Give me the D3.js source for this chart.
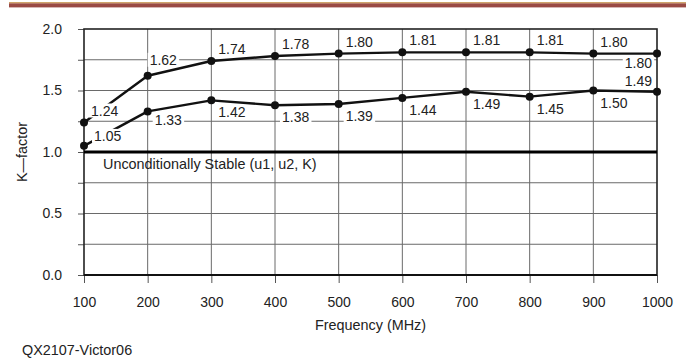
<!DOCTYPE html>
<html>
<head>
<meta charset="utf-8">
<script src="https://cdn.jsdelivr.net/npm/d3@7"></script>
<style>
  html, body { margin: 0; padding: 0; background: #fff; }
  svg { display: block; font-family: "Liberation Sans", Arial, Helvetica, sans-serif; }
</style>
</head>
<body>
<svg id="chart" width="686" height="360"></svg>
<script>
// Frequency sweep (MHz) and stability factors
const frequencies = [100, 200, 300, 400, 500, 600, 700, 800, 900, 1000];
const kUpper = [1.24, 1.62, 1.74, 1.78, 1.80, 1.81, 1.81, 1.81, 1.80, 1.80];
const kLower = [1.05, 1.33, 1.42, 1.38, 1.39, 1.44, 1.49, 1.45, 1.50, 1.49];
const yTickValues = [0, 0.25, 0.5, 0.75, 1.0, 1.25, 1.5, 1.75, 2.0];
const yTickLabels = ["0.0", "", "0.5", "", "1.0", "", "1.5", "", "2.0"];
const stableLevel = 1.0;
const stableText = "Unconditionally Stable (u1, u2, K)";
const xTitle = "Frequency (MHz)";
const yTitle = "K\u2014factor";
const figureId = "QX2107-Victor06";

const svg = d3.select("#chart");
const plotL = 84, plotR = 657, plotT = 29, plotB = 275;

const x = d3.scaleLinear().domain([100, 1000]).range([plotL, plotR]);
const y = d3.scaleLinear().domain([0, 2]).range([plotB, plotT]);

// header band
svg.append("rect").attr("x", 9).attr("y", 2).attr("width", 677).attr("height", 1.6).attr("fill", "#cfa56a");
svg.append("rect").attr("x", 9).attr("y", 3.4).attr("width", 677).attr("height", 4).attr("fill", "#9a4a44");

// grid
const grid = svg.append("g");
grid.selectAll("line.v").data(frequencies.slice(1, -1)).join("line")
  .attr("x1", d => x(d)).attr("x2", d => x(d))
  .attr("y1", plotT).attr("y2", plotB)
  .attr("stroke", "#6a6a6a").attr("stroke-width", 1);
grid.selectAll("line.h").data(yTickValues.filter(v => v > 0 && v < 2 && v !== stableLevel)).join("line")
  .attr("x1", plotL).attr("x2", plotR)
  .attr("y1", d => y(d)).attr("y2", d => y(d))
  .attr("stroke", "#6a6a6a").attr("stroke-width", 1);

// axes
const yAxis = d3.axisLeft(y).tickValues(yTickValues)
  .tickFormat((d, i) => yTickLabels[i]).tickSize(6).tickPadding(16);
const gy = svg.append("g").attr("transform", `translate(${plotL},0)`).call(yAxis);
gy.select(".domain").remove();
gy.selectAll(".tick line").attr("stroke", "#555");
gy.selectAll(".tick text").attr("font-size", 14).attr("fill", "#222")
  .attr("font-family", "Liberation Sans, Arial, sans-serif");

const xAxis = d3.axisBottom(x).tickValues(frequencies).tickFormat(d3.format("d"))
  .tickSize(8).tickPadding(14);
const gx = svg.append("g").attr("transform", `translate(0,${plotB})`).call(xAxis);
gx.select(".domain").remove();
gx.selectAll(".tick line").attr("stroke", "#555");
gx.selectAll(".tick text").attr("font-size", 14).attr("fill", "#222")
  .attr("font-family", "Liberation Sans, Arial, sans-serif");

// frame
svg.append("rect").attr("x", plotL).attr("y", plotT)
  .attr("width", plotR - plotL).attr("height", plotB - plotT)
  .attr("fill", "none").attr("stroke", "#222").attr("stroke-width", 1.6);
svg.append("line").attr("x1", plotL).attr("x2", plotR)
  .attr("y1", y(0)).attr("y2", y(0)).attr("stroke", "#111").attr("stroke-width", 2.2);

// stability threshold
svg.append("line").attr("x1", plotL).attr("x2", plotR)
  .attr("y1", y(stableLevel)).attr("y2", y(stableLevel))
  .attr("stroke", "#000").attr("stroke-width", 3);
svg.append("text").attr("x", x(100) + 19).attr("y", y(stableLevel) + 17)
  .attr("font-size", 14.4).attr("fill", "#222").text(stableText);

// series lines
const line = d3.line().x((d, i) => x(frequencies[i])).y(d => y(d));
const series = [
  { values: kUpper, kind: "upper" },
  { values: kLower, kind: "lower" }
];
series.forEach(s => {
  svg.append("path").datum(s.values).attr("d", line)
    .attr("fill", "none").attr("stroke", "#111").attr("stroke-width", 2.4)
    .attr("stroke-linejoin", "round");
});

// value labels with white backing, placed around each point
function placement(kind, i, n) {
  if (kind === "upper") {
    if (i === n - 1) return { dx: -5, dy: 9, anchor: "end" };
    if (i === 1) return { dx: 2, dy: -16, anchor: "start" };
    return { dx: 7, dy: -12, anchor: "start" };
  }
  if (i === 0) return { dx: 10, dy: -10, anchor: "start" };
  if (i === n - 1) return { dx: -5, dy: -11, anchor: "end" };
  if (i === 1) return { dx: 7, dy: 9, anchor: "start" };
  return { dx: 7, dy: 12, anchor: "start" };
}
const labelLayer = svg.append("g");
series.forEach(s => {
  s.values.forEach((v, i) => {
    const p = placement(s.kind, i, s.values.length);
    const g = labelLayer.append("g");
    const t = g.append("text")
      .attr("x", x(frequencies[i]) + p.dx)
      .attr("y", y(v) + p.dy)
      .attr("dy", "0.36em")
      .attr("text-anchor", p.anchor)
      .attr("font-size", 14).attr("fill", "#222")
      .text(v.toFixed(2));
    const b = t.node().getBBox();
    g.insert("rect", "text")
      .attr("x", b.x - 2).attr("y", b.y + 1)
      .attr("width", b.width + 4).attr("height", b.height - 2)
      .attr("fill", "#fff");
  });
});

// markers
series.forEach(s => {
  svg.append("g").selectAll("circle").data(s.values).join("circle")
    .attr("cx", (d, i) => x(frequencies[i])).attr("cy", d => y(d))
    .attr("r", 4).attr("fill", "#111");
});

// titles
svg.append("text").attr("x", (plotL + plotR) / 2).attr("y", 330)
  .attr("text-anchor", "middle").attr("font-size", 14.4).attr("fill", "#222").text(xTitle);
svg.append("text").attr("transform", `translate(27,${(plotT + plotB) / 2}) rotate(-90)`)
  .attr("text-anchor", "middle").attr("font-size", 14.4).attr("fill", "#222").text(yTitle);
svg.append("text").attr("x", 22).attr("y", 355)
  .attr("font-size", 14.4).attr("fill", "#222").text(figureId);
</script>
</body>
</html>
